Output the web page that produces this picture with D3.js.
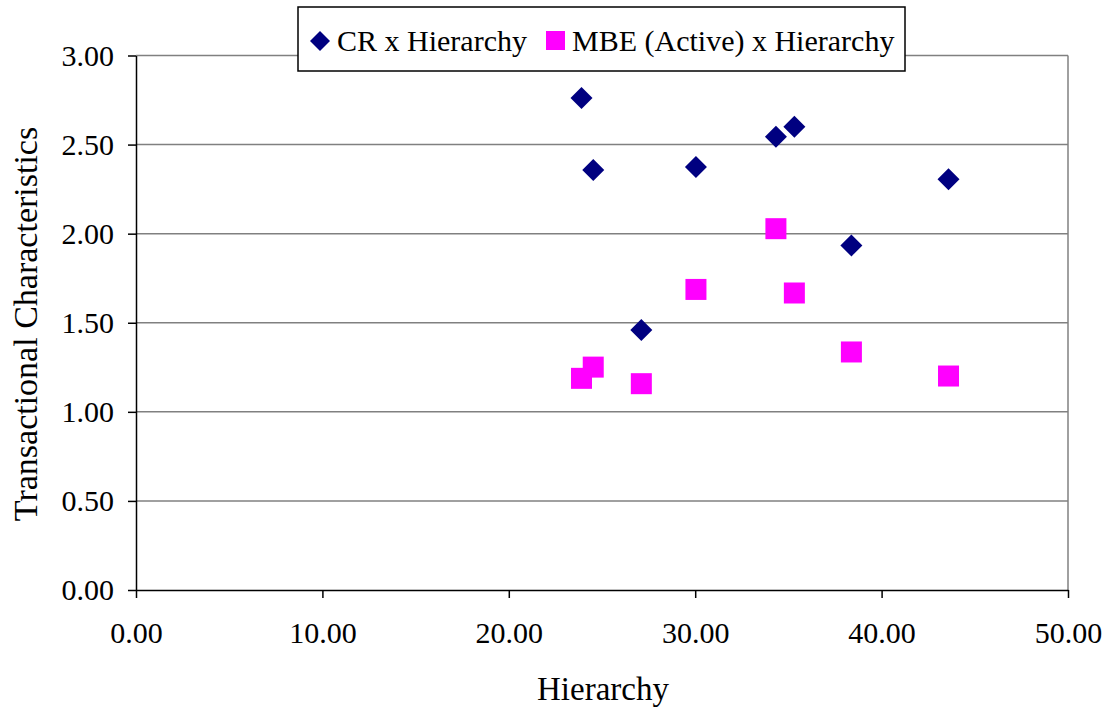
<!DOCTYPE html>
<html><head><meta charset="utf-8">
<script src="https://cdn.jsdelivr.net/npm/d3@7"></script>
<style>body{margin:0;background:#fff}svg{display:block}text{font-family:"Liberation Serif","Times New Roman",serif;fill:#000}</style>
</head><body>
<svg id="chart" width="1117" height="710"></svg>
<script>
const hierarchy = [23.90, 24.53, 27.11, 30.04, 34.33, 35.32, 38.38, 43.59];
const crValues  = [2.761, 2.357, 1.459, 2.374, 2.544, 2.600, 1.934, 2.305];
const mbeValues = [1.188, 1.251, 1.158, 1.687, 2.028, 1.667, 1.336, 1.201];
const xTicks = [0, 10, 20, 30, 40, 50];
const yTicks = [0, 0.5, 1, 1.5, 2, 2.5, 3];
const seriesNames = ["CR x Hierarchy", "MBE (Active) x Hierarchy"];

const svg = d3.select("#chart");
const L = 136, R = 1068, T = 55.5, B = 590;
const x = d3.scaleLinear().domain([0, 50]).range([L, R]);
const y = d3.scaleLinear().domain([0, 3]).range([B, T]);

// gridlines
svg.append("g").selectAll("line").data(yTicks.filter(d => d > 0)).join("line")
  .attr("x1", L).attr("x2", R).attr("y1", d => y(d)).attr("y2", d => y(d))
  .attr("stroke", "#808080").attr("stroke-width", 1.5);
// right border
svg.append("line").attr("x1", R).attr("x2", R).attr("y1", T).attr("y2", B)
  .attr("stroke", "#808080").attr("stroke-width", 1.5);

// axes
const xAxis = svg.append("g").attr("transform", `translate(0,${B})`)
  .call(d3.axisBottom(x).tickValues(xTicks).tickFormat(d3.format(".2f")).tickSizeInner(8).tickSizeOuter(0).tickPadding(24));
const yAxis = svg.append("g").attr("transform", `translate(${L},0)`)
  .call(d3.axisLeft(y).tickValues(yTicks).tickFormat(d3.format(".2f")).tickSizeInner(8).tickSizeOuter(0).tickPadding(14));
[xAxis, yAxis].forEach(a => {
  a.select(".domain").attr("stroke", "#000").attr("stroke-width", 1.5);
  a.selectAll(".tick line").attr("stroke", "#000").attr("stroke-width", 1.5);
  a.selectAll("text").style("font-size", "30px").style("font-family", '"Liberation Serif", serif').attr("fill", "#000");
});

// markers
const diamond = s => `M0,${-s}L${s},0L0,${s}L${-s},0Z`;
svg.append("g").selectAll("rect").data(hierarchy.map((h, i) => [h, mbeValues[i]])).join("rect")
  .attr("x", d => x(d[0]) - 10.5).attr("y", d => y(d[1]) - 10.5)
  .attr("width", 21).attr("height", 21).attr("fill", "#ff00ff");
svg.append("g").selectAll("path").data(hierarchy.map((h, i) => [h, crValues[i]])).join("path")
  .attr("d", diamond(11)).attr("transform", d => `translate(${x(d[0])},${y(d[1])})`)
  .attr("fill", "#000080");

// axis titles
svg.append("text").attr("x", 603).attr("y", 700).attr("text-anchor", "middle")
  .style("font-size", "33px").text("Hierarchy");
svg.append("text").attr("transform", `translate(37,${324}) rotate(-90)`).attr("text-anchor", "middle")
  .style("font-size", "34px").text("Transactional Characteristics");

// legend
const lg = svg.append("g");
lg.append("rect").attr("x", 298).attr("y", 7).attr("width", 607).attr("height", 64)
  .attr("fill", "#fff").attr("stroke", "#000").attr("stroke-width", 1.5);
lg.append("path").attr("d", diamond(10)).attr("transform", "translate(320,41)").attr("fill", "#000080");
lg.append("text").attr("x", 337).attr("y", 51).style("font-size", "30px").text(seriesNames[0]);
lg.append("rect").attr("x", 546).attr("y", 31).attr("width", 19).attr("height", 19).attr("fill", "#ff00ff");
lg.append("text").attr("x", 572).attr("y", 51).style("font-size", "30px").text(seriesNames[1]);
</script>
</body></html>
